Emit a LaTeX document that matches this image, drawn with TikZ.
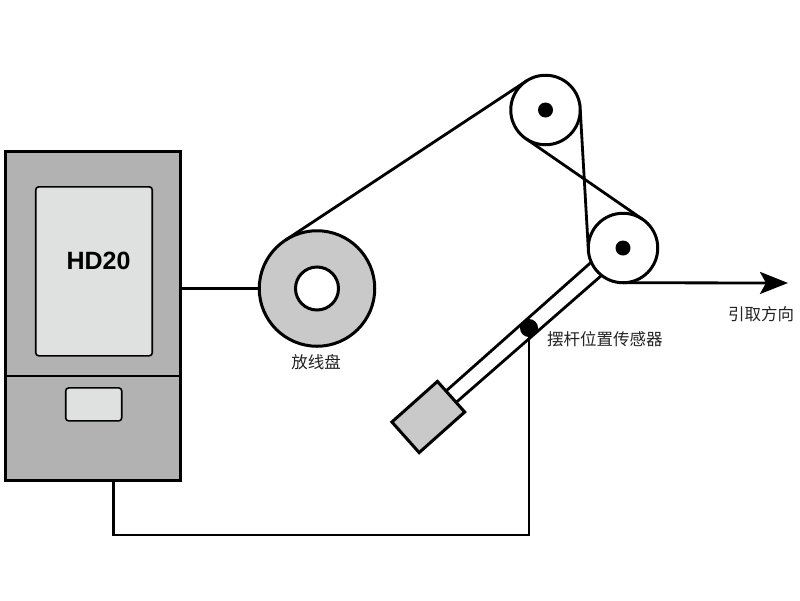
\documentclass[tikz,border=0pt]{standalone}
\usepackage{fontspec}
\setmainfont{Liberation Sans}
\newfontfamily\cjk{Noto Sans CJK SC}
\usetikzlibrary{arrows.meta}
\definecolor{boxgray}{HTML}{B1B2B1}
\definecolor{panelgray}{HTML}{DFE1E0}
\definecolor{reelgray}{HTML}{C8C9C8}
\definecolor{labelgray}{HTML}{222222}
\tikzset{
	part/.style={draw,line width=3pt,inner sep=0pt,outer sep=0pt},
	panel/.style={part,fill=panelgray,rounded corners=3pt,line width=1.6pt},
	pulley/.style={part,circle,fill=white,minimum size=69.5pt},
	hub/.style={circle,fill=black,inner sep=0pt,outer sep=0pt,minimum size=15pt},
	belt/.style={line width=2.8pt},
	caption/.style={font=\cjk\fontsize{16.5}{17}\selectfont,text=labelgray,inner sep=0pt}
}
\begin{document}
\begin{tikzpicture}[x=1pt,y=-1pt]
		\useasboundingbox (0,0) rectangle (800,600);
		\node[part,fill=boxgray,line width=3.2pt,minimum width=175pt,minimum height=328.5pt] (ctrl) at (93,316) {};
		\coordinate (divider) at (93,375.7);
		\draw[line width=1.6pt] (ctrl.west |- divider) -- (ctrl.east |- divider);
		\node[panel,minimum width=116.5pt,minimum height=169pt] (screen) at (94,271.3) {};
		\node[panel,minimum width=56pt,minimum height=33pt] (keypad) at (93.7,404.4) {};
		\node[font=\bfseries\fontsize{25}{25}\selectfont,text=black,inner sep=0pt] (model) at (98.5,261) {HD20};
		\node[part,circle,fill=reelgray,minimum size=115.5pt] (reel) at (317,288.5) {};
		\node[part,circle,fill=white,minimum size=43pt] (reelhole) at (317,288.5) {};
		\node[caption] (reellabel) at (316,362) {放线盘};
		\node[pulley] (upper) at (545.5,110) {};
		\node[pulley] (lower) at (623,248) {};
		\node[hub] (upperhub) at (545.5,110) {};
		\node[hub] (lowerhub) at (623,248) {};
		\node[part,fill=reelgray,rotate=41.7,minimum width=61pt,minimum height=41pt] (weight) at (428.3,417) {};
		\draw[belt] (weight.14) -- (lower.204);
		\draw[belt] (weight.-14) -- (lower.232);
		\node[circle,fill=black,inner sep=0pt,outer sep=0pt,minimum size=18pt] (sensor) at (529,328) {};
		\node[caption,anchor=west] (sensorlabel) at (547,339) {摆杆位置传感器};
		\coordinate (pull) at (788,283);
		\coordinate (boxout) at (113.2,481);
		\coordinate (wirelow) at (300,535);
		\draw[belt] (reel.123) -- (upper.123);
		\draw[belt] (upper.0) -- (lower.180);
		\draw[belt] (upper.236) -- (lower.56);
		\draw[belt,-{Stealth[length=28pt,width=22pt,inset=6pt]}] (lower.south) -- (pull);
		\draw[belt] (ctrl.east |- reel.west) -- (reel.west);
		\draw[belt] (boxout) |- (wirelow) -| (sensor.center);
		\node[caption,anchor=west] (pulllabel) at (728,314) {引取方向};
		\end{tikzpicture}
\end{document}
